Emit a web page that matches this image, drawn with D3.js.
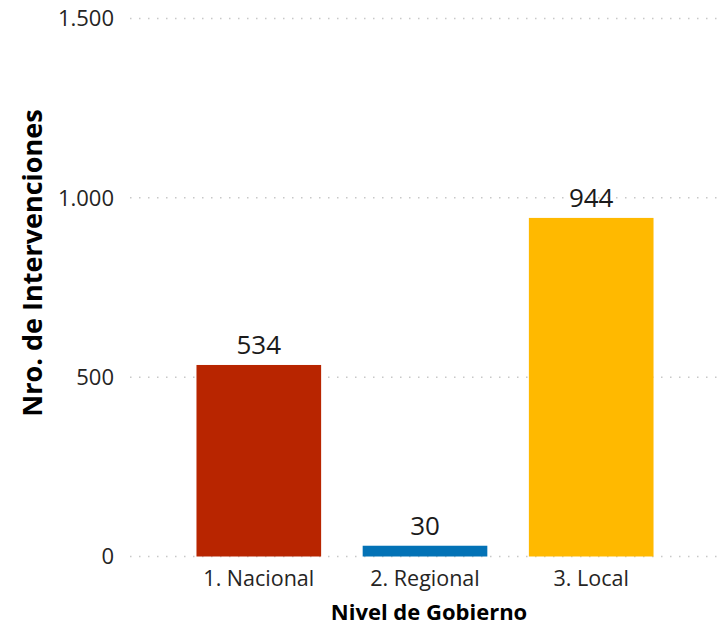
<!DOCTYPE html>
<html>
<head>
<meta charset="utf-8">
<script src="https://cdn.jsdelivr.net/npm/d3@7"></script>
<style>
  body { margin: 0; background: #fff; }
  svg text { font-family: "Open Sans", "Noto Sans", sans-serif; }
</style>
</head>
<body>
<div id="chart"></div>
<script>
const width = 720;
const height = 628;

const categories = ["1. Nacional", "2. Regional", "3. Local"];
const values = [534, 30, 944];
const colours = ["#B82500", "#0372B6", "#FFB900"];
const yTicks = [0, 500, 1000, 1500];

const yAxisTitle = "Nro. de Intervenciones";
const xAxisTitle = "Nivel de Gobierno";

// spanish thousands separator
const fmt = d3.formatLocale({ decimal: ",", thousands: ".", grouping: [3], currency: ["", "€"] }).format(",d");

const svg = d3.select("#chart")
    .append("svg")
    .attr("width", width)
    .attr("height", height);

const x = d3.scaleBand()
    .domain(categories)
    .range([130, 720])
    .paddingInner(0.25)
    .paddingOuter(0.4)
    .align(0.5);

const y = d3.scaleLinear()
    .domain([0, 1500])
    .range([556.5, 18.5]);

// gridlines
svg.append("g")
    .selectAll("line")
    .data(yTicks)
    .enter()
    .append("line")
    .attr("x1", 130)
    .attr("x2", 720)
    .attr("y1", d => y(d))
    .attr("y2", d => y(d))
    .attr("stroke", "#c8c8c8")
    .attr("stroke-width", 1.5)
    .attr("stroke-dasharray", "1.5,7.5");

// y tick labels
svg.append("g")
    .selectAll("text")
    .data(yTicks)
    .enter()
    .append("text")
    .attr("x", 114)
    .attr("y", d => y(d))
    .attr("dy", "0.36em")
    .attr("text-anchor", "end")
    .attr("font-size", 22)
    .attr("fill", "#252423")
    .text(d => fmt(d));

// bars
svg.append("g")
    .selectAll("rect")
    .data(values)
    .enter()
    .append("rect")
    .attr("x", (d, i) => x(categories[i]))
    .attr("width", x.bandwidth())
    .attr("y", d => y(d))
    .attr("height", d => y(0) - y(d))
    .attr("fill", (d, i) => colours[i]);

// value labels
svg.append("g")
    .selectAll("text")
    .data(values)
    .enter()
    .append("text")
    .attr("x", (d, i) => x(categories[i]) + x.bandwidth() / 2)
    .attr("y", d => y(d) - 11)
    .attr("text-anchor", "middle")
    .attr("font-size", 26)
    .attr("fill", "#1a1a1a")
    .text(d => fmt(d));

// category labels
svg.append("g")
    .selectAll("text")
    .data(categories)
    .enter()
    .append("text")
    .attr("x", d => x(d) + x.bandwidth() / 2)
    .attr("y", 586)
    .attr("text-anchor", "middle")
    .attr("font-size", 21.5)
    .attr("fill", "#252423")
    .text(d => d);

// axis titles
svg.append("text")
    .attr("x", 429)
    .attr("y", 620)
    .attr("text-anchor", "middle")
    .attr("font-size", 22)
    .attr("font-weight", "bold")
    .attr("fill", "#000")
    .text(xAxisTitle);

svg.append("text")
    .attr("transform", "translate(42,263) rotate(-90)")
    .attr("text-anchor", "middle")
    .attr("font-size", 27)
    .attr("font-weight", "bold")
    .attr("fill", "#000")
    .text(yAxisTitle);
</script>
</body>
</html>
